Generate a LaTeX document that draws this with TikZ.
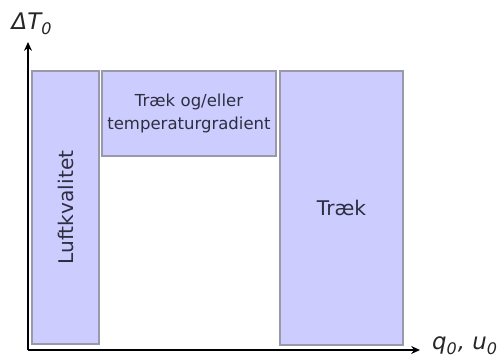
\documentclass[tikz,border=0pt]{standalone}
\usepackage{fontspec}
\setmainfont{DejaVu Sans}
\usetikzlibrary{arrows.meta}

\definecolor{boxfill}{HTML}{CCCCFF}
\definecolor{boxline}{HTML}{9999AA}
\definecolor{txt}{HTML}{2E2E40}

\tikzset{
  zone/.style={draw=boxline,fill=boxfill,line width=0.8pt,inner sep=0pt,
    outer sep=0pt,text=txt,align=center,font=\fontsize{11.5}{12.5}\selectfont},
  zonetext/.style={text=txt,font=\fontsize{11.5}{12.5}\selectfont},
  axis/.style={draw=black,line width=1.4pt,-{Stealth[length=5pt,width=4.5pt]}},
  axlabel/.style={text=black!85,font=\fontsize{13}{15}\selectfont\itshape}
}

\begin{document}
\begin{tikzpicture}[x=0.02cm,y=-0.02cm]
    \useasboundingbox (0,0) rectangle (499,359);
    % zones
    \node[zone,minimum width=1.34cm,minimum height=5.46cm] (luft) at (65.5,207.5) {};
    \node[zonetext,rotate=90] (lufttxt) at (luft.center) {Luftkvalitet};
    \node[zone,text width=3.48cm,minimum height=1.70cm,
        font=\fontsize{9.4}{13}\selectfont] (grad) at (189,113.5)
        {Træk og/eller\\temperaturgradient};
    \node[zone,minimum width=2.46cm,minimum height=5.48cm] (traek) at (341.5,208) {Træk};
    % axes
    \coordinate (O) at (28,350);
    \coordinate (Y) at (28,42);
    \coordinate (X) at (420,350);
    \draw [axis] (O) -- (Y);
    \draw [axis] (O) -- (X);
    \node[axlabel] (dT) at (32,24) {ΔT\textsubscript{0}};
    \node[axlabel] (qu) at (465,346) {q\textsubscript{0}, u\textsubscript{0}};
\end{tikzpicture}
\end{document}
